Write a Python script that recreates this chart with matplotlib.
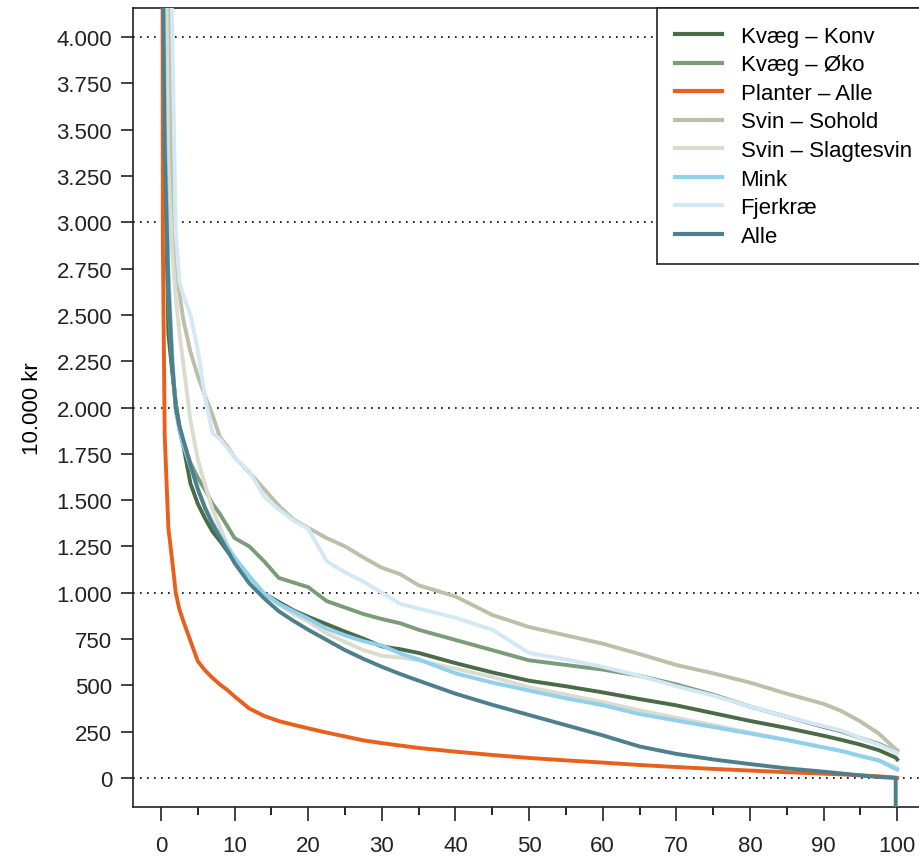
import numpy as np
import matplotlib
matplotlib.use("Agg")
import matplotlib.pyplot as plt
import matplotlib.ticker as ticker

plt.rcParams.update({
    "font.family": ["Liberation Sans", "DejaVu Sans"],
    "font.size": 16,
    "axes.linewidth": 1.2,
})

# ── Data (percentile of farms vs. value in 10.000 kr) ───────────────────────
pct = [0, 0.25, 0.5, 1, 1.5, 2, 2.5, 3, 4, 5, 6, 7, 8, 9, 10, 12, 14, 16, 18, 20,
       22.5, 25, 27.5, 30, 32.5, 35, 40, 45, 50, 55, 60, 65, 70, 75, 80, 85, 90,
       92.5, 95, 97.5, 99.8, 100]

kvaeg_konv = [20000, 4800, 3500, 2400, 2200, 2020, 1880, 1800, 1590, 1480, 1400, 1330,
              1280, 1225, 1170, 1080, 995, 950, 905, 870, 830, 790, 752, 710, 695, 675,
              620, 570, 525, 495, 462, 426, 392, 350, 308, 270, 228, 205, 180, 150, 110, 100]
kvaeg_oko = [20000, 5000, 3600, 2600, 2220, 2030, 1900, 1820, 1700, 1620, 1555, 1480,
             1425, 1360, 1295, 1250, 1170, 1080, 1055, 1030, 955, 920, 885, 858, 835, 800,
             745, 690, 635, 610, 585, 552, 505, 450, 385, 330, 275, 250, 215, 185, 142, 140]
planter = [12000, 2900, 1850, 1350, 1180, 1000, 910, 850, 740, 630, 580, 540, 505, 475,
           440, 375, 335, 307, 287, 268, 245, 224, 203, 188, 175, 162, 142, 124, 108, 95,
           83, 70, 59, 49, 40, 31, 23, 19, 14, 9, 2, 0]
svin_sohold = [20000, 15000, 9000, 4300, 2980, 2750, 2620, 2480, 2300, 2170, 2060, 1960,
               1840, 1790, 1730, 1650, 1560, 1470, 1395, 1350, 1295, 1250, 1190, 1135,
               1100, 1040, 980, 880, 815, 770, 725, 669, 610, 565, 515, 455, 400, 360,
               305, 240, 155, 150]
svin_slagt = [20000, 8000, 5000, 3300, 2850, 2600, 2400, 2245, 1930, 1720, 1580, 1450,
              1355, 1260, 1180, 1070, 995, 940, 885, 845, 780, 735, 690, 660, 650, 635,
              590, 545, 490, 450, 410, 365, 325, 285, 245, 205, 165, 145, 120, 95, 58, 55]
mink = [20000, 5000, 3600, 2750, 2300, 1980, 1880, 1800, 1680, 1560, 1460, 1380, 1310,
        1250, 1190, 1090, 995, 940, 900, 860, 805, 770, 738, 715, 672, 640, 565, 515,
        472, 430, 393, 345, 310, 275, 240, 205, 165, 145, 118, 95, 48, 45]
fjerkrae = [20000, 15000, 10000, 6000, 4100, 2950, 2680, 2610, 2500, 2310, 2050, 1860,
            1830, 1780, 1730, 1655, 1520, 1450, 1390, 1345, 1170, 1110, 1060, 1000, 940,
            915, 865, 800, 675, 640, 600, 552, 495, 445, 385, 330, 280, 255, 215, 180,
            138, 135]
alle = [20000, 4400, 3400, 2650, 2250, 2000, 1900, 1830, 1690, 1560, 1455, 1370, 1300,
        1230, 1160, 1050, 970, 900, 848, 800, 745, 690, 643, 600, 561, 525, 455, 395,
        340, 285, 230, 170, 130, 100, 75, 52, 34, 24, 14, 5, 0, -50000]

labels = ["Kvæg – Konv", "Kvæg – Øko", "Planter – Alle", "Svin – Sohold",
          "Svin – Slagtesvin", "Mink", "Fjerkræ", "Alle"]
series = [kvaeg_konv, kvaeg_oko, planter, svin_sohold, svin_slagt, mink, fjerkrae, alle]
colors = ["#4a6b47", "#7b9c79", "#e8601c", "#bdbfa9",
          "#dcdcce", "#8fd0ef", "#d2e8f7", "#4e7f8c"]

yticks = np.arange(0, 4001, 250)

# ── Figure ───────────────────────────────────────────────────────────────────
fig = plt.figure(figsize=(9.2, 8.62), dpi=100)
ax = fig.add_axes([0.1446, 0.0626, 0.8554, 0.927])

for yv in [0, 1000, 2000, 3000, 4000]:
    ax.axhline(yv, color="black", lw=1.2, dashes=(1, 3.2), zorder=1)

for vals, lab, col in zip(series, labels, colors):
    ax.plot(pct, vals, color=col, lw=2.8, label=lab, zorder=3,
            solid_joinstyle="round")

ax.set_xlim(-3.8, 103.1)
ax.set_ylim(-157, 4157)

ax.set_yticks(yticks)
ax.yaxis.set_major_formatter(
    ticker.FuncFormatter(lambda v, p: f"{v:,.0f}".replace(",", ".")))
ax.xaxis.set_major_locator(ticker.MultipleLocator(10))
ax.xaxis.set_minor_locator(ticker.MultipleLocator(5))

ax.tick_params(axis="y", length=9, width=1.2, pad=6, colors="#222222")
ax.tick_params(axis="x", which="major", length=10, width=1.2, pad=10, colors="#222222")
ax.tick_params(axis="x", which="minor", length=6, width=1.2)
for s in ax.spines.values():
    s.set_color("#222222")
ax.spines["right"].set_visible(False)

ax.set_ylabel("10.000 kr", labelpad=10)

# legend box runs off the right edge of the picture, as in the original crop
leg = ax.legend(loc="upper right", bbox_to_anchor=(1.012, 1.0), borderaxespad=0,
                frameon=True, fancybox=False, edgecolor="#222222", framealpha=1,
                handlelength=2.1, handletextpad=0.85, labelspacing=0.34,
                borderpad=0.8)
leg.get_frame().set_linewidth(1.2)
for line in leg.get_lines():
    line.set_linewidth(3.0)

fig.savefig("out.png", dpi=100)
